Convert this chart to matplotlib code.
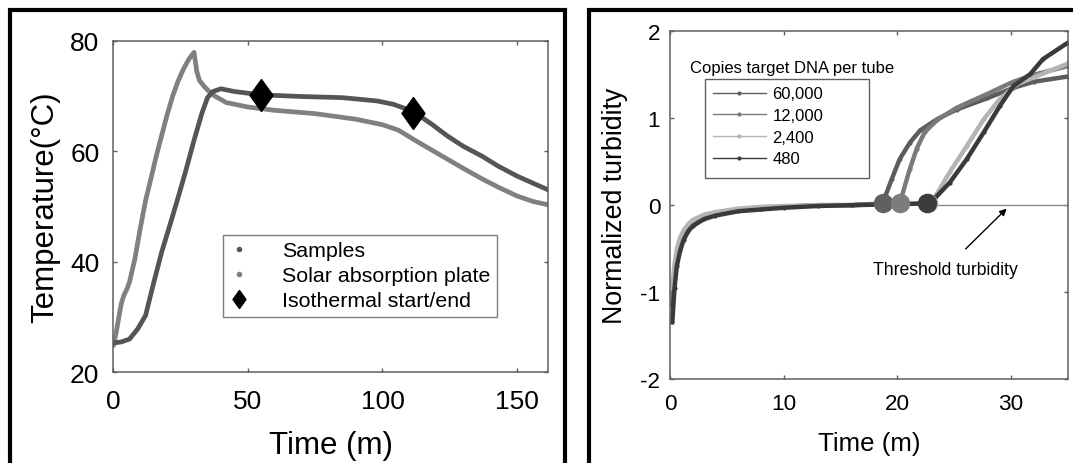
import matplotlib
matplotlib.use('Agg')
import matplotlib.pyplot as plt
from matplotlib.lines import Line2D
from matplotlib.patches import Rectangle

plt.rcParams['font.family'] = ['Liberation Sans', 'DejaVu Sans']
plt.rcParams['axes.unicode_minus'] = False

# ---- left panel data: temperature vs time ----
t_samples = [0, 3, 6, 9, 12, 15, 18, 21, 24, 27, 30, 33, 35, 37, 40, 45, 55, 70, 85,
             98, 104, 108, 112, 118, 124, 130, 137, 143, 150, 156, 161.6]
temp_samples = [25.3, 25.5, 26.0, 27.8, 30.3, 36.2, 41.8, 46.6, 51.5, 56.6, 62.0, 67.0, 69.7,
                70.8, 71.3, 70.8, 70.2, 69.9, 69.7, 69.1, 68.5, 67.8, 67.0, 65.0, 62.8,
                60.9, 59.1, 57.3, 55.5, 54.2, 53.0]

t_plate = [0, 1, 2, 3, 4, 5, 6, 8, 10, 12, 14, 16, 18, 20, 22, 24, 26, 28, 30, 31, 32,
           34, 36, 38, 42, 50, 60, 75, 90, 100, 106, 112, 118, 124, 130, 137, 143, 150,
           156, 161.6]
temp_plate = [24.8, 27.0, 29.8, 32.5, 34.0, 35.0, 36.3, 40.5, 46.0, 51.1, 55.1, 59.2, 62.9,
              66.6, 69.9, 72.6, 74.8, 76.6, 77.9, 74.5, 72.8, 71.6, 70.6, 69.9, 68.8, 68.0,
              67.4, 66.8, 65.8, 64.8, 63.8, 62.0, 60.3, 58.6, 56.9, 55.0, 53.5, 51.9,
              50.9, 50.3]

t_iso = [55, 111.5]
temp_iso = [70.2, 67.0]

# ---- right panel data: normalized turbidity vs time ----
t_early = [0.2, 0.4, 0.6, 0.9, 1.2, 1.6, 2.0, 3.0, 4.0, 6.0, 8.0, 10.0, 13.0, 16.0]

y_early_60k = [-1.15, -0.82, -0.62, -0.46, -0.36, -0.27, -0.21, -0.14, -0.10, -0.06, -0.04, -0.02, 0.0, 0.0]
y_early_12k = [-1.05, -0.75, -0.57, -0.42, -0.33, -0.25, -0.19, -0.13, -0.09, -0.05, -0.03, -0.02, 0.0, 0.0]
y_early_2k4 = [-0.95, -0.68, -0.5, -0.37, -0.29, -0.22, -0.17, -0.11, -0.08, -0.04, -0.02, -0.01, 0.0, 0.0]
y_early_480 = [-1.35, -0.95, -0.7, -0.52, -0.4, -0.3, -0.24, -0.16, -0.12, -0.07, -0.05, -0.03, -0.01, 0.0]

t_late_60k = [18.7, 19.5, 20.2, 21.1, 22.0, 23.5, 25.2, 27.9, 30.2, 32.0, 35.0]
y_late_60k = [0.02, 0.3, 0.53, 0.72, 0.86, 0.99, 1.10, 1.23, 1.35, 1.42, 1.48]
t_late_12k = [20.2, 21.1, 21.7, 22.4, 23.5, 25.2, 27.9, 30.2, 32.0, 35.0]
y_late_12k = [0.02, 0.42, 0.65, 0.84, 0.98, 1.12, 1.28, 1.42, 1.50, 1.60]
t_late_2k4 = [22.8, 23.2, 24.6, 26.1, 27.6, 29.0, 30.5, 32.0, 35.0]
y_late_2k4 = [0.02, 0.07, 0.38, 0.68, 0.99, 1.22, 1.39, 1.47, 1.63]
t_late_480 = [22.6, 23.3, 24.6, 26.1, 27.6, 29.0, 30.2, 31.7, 32.8, 35.0]
y_late_480 = [0.02, 0.08, 0.26, 0.53, 0.84, 1.14, 1.37, 1.51, 1.68, 1.87]

copies_labels = ['60,000', '12,000', '2,400', '480']
onset_times = [18.7, 20.2, 22.7, 22.6]
threshold_t = [22.6, 35]
threshold_y = [0, 0]

# colours
c_samples = '#555555'
c_plate = '#808080'
copies_colors = ['#5c5c5c', '#7a7a7a', '#b4b4b4', '#3a3a3a']
onset_colors = ['#606060', '#7c7c7c', '#b4b4b4', '#3c3c3c']
spine_c = '#5f5f5f'

W, H = 1073, 464
fig = plt.figure(figsize=(W / 100, H / 100), dpi=100)

# black frames around the two panels
fig.add_artist(Rectangle((9.5 / W, -0.1), (565 - 9.5) / W, 1.1 - 11.3 / H,
                         transform=fig.transFigure, fill=False, lw=3.0, ec='black'))
fig.add_artist(Rectangle((588.7 / W, -0.1), 0.5, 1.1 - 11.3 / H,
                         transform=fig.transFigure, fill=False, lw=3.0, ec='black'))


def style_axes(ax, tick_fs, pad_x, pad_y):
    for s in ax.spines.values():
        s.set_color(spine_c)
        s.set_linewidth(1.1)
    ax.tick_params(direction='in', length=3, width=1, color=spine_c,
                   top=True, right=True, labelsize=tick_fs)
    ax.tick_params(axis='x', pad=pad_x)
    ax.tick_params(axis='y', pad=pad_y)


# ---- left panel ----
ax1 = fig.add_axes([113.3 / W, 1 - 373.3 / H, 435 / W, 331.6 / H])
ax1.plot(t_plate, temp_plate, color=c_plate, lw=3.4, solid_capstyle='round')
ax1.plot(t_samples, temp_samples, color=c_samples, lw=3.4, solid_capstyle='round')
diamond = [(0, 1), (0.72, 0), (0, -1), (-0.72, 0), (0, 1)]
ax1.plot(t_iso, temp_iso, ls='none', marker=diamond, ms=23, color='black')
ax1.set_xlim(0, 161.6)
ax1.set_ylim(20, 80)
ax1.set_xticks([0, 50, 100, 150])
ax1.set_yticks([20, 40, 60, 80])
style_axes(ax1, 19, 12, 10)
ax1.set_xlabel('Time (m)', fontsize=22.5, labelpad=12)
ax1.set_ylabel('Temperature(°C)', fontsize=22.5, labelpad=7)

h1 = [Line2D([], [], ls='none', marker='.', ms=6, color=c_samples),
      Line2D([], [], ls='none', marker='.', ms=6, color=c_plate),
      Line2D([], [], ls='none', marker=diamond, ms=13, color='black')]
leg1 = ax1.legend(h1, ['Samples', 'Solar absorption plate', 'Isothermal start/end'],
                  loc='upper left', bbox_to_anchor=(0.252, 0.414), borderaxespad=0,
                  fontsize=15.4, frameon=True, fancybox=False, handlelength=0.9,
                  handletextpad=1.55, labelspacing=0.28, borderpad=0.3)
leg1.get_frame().set_edgecolor(spine_c)
leg1.get_frame().set_linewidth(1.0)

# ---- right panel ----
ax2 = fig.add_axes([670 / W, 1 - 380 / H, 398 / W, 347.7 / H])
ax2.plot(threshold_t, threshold_y, color='#8a8a8a', lw=1.0)
early_sets = [y_early_60k, y_early_12k, y_early_2k4, y_early_480]
late_sets = [(t_late_60k, y_late_60k), (t_late_12k, y_late_12k),
             (t_late_2k4, y_late_2k4), (t_late_480, y_late_480)]
for ye, (tl, yl), col in zip(early_sets, late_sets, copies_colors):
    ax2.plot(t_early + tl, ye + yl, color=col, lw=3.2, marker='.', ms=4,
             solid_capstyle='round')
for tx, col in zip(onset_times, onset_colors):
    ax2.plot([tx], [0.03], ls='none', marker='o', ms=13, color=col)

ax2.set_xlim(0, 35)
ax2.set_ylim(-2, 2)
ax2.set_xticks([0, 10, 20, 30])
ax2.set_yticks([-2, -1, 0, 1, 2])
style_axes(ax2, 16.2, 10, 7)
ax2.set_xlabel('Time (m)', fontsize=18.6, labelpad=12)
ax2.set_ylabel('Normalized turbidity', fontsize=19.3, labelpad=9)

# legend frame drawn separately (box is wider than its entries)
ax2.add_patch(Rectangle((0.088, 0.577), 0.412, 0.286, transform=ax2.transAxes,
                        fill=False, ec=spine_c, lw=1.0, zorder=4))
h2 = [Line2D([], [], color=c, lw=1.0, marker='.', ms=4) for c in copies_colors]
leg2 = ax2.legend(h2, copies_labels, loc='upper left', bbox_to_anchor=(0.088, 0.863),
                  borderaxespad=0, fontsize=12, frameon=False,
                  handlelength=3.2, handletextpad=0.4, labelspacing=0.4,
                  borderpad=0.45, numpoints=1)
ax2.text(0.05, 0.897, 'Copies target DNA per tube', transform=ax2.transAxes,
         fontsize=12, va='center', ha='left')

ax2.annotate('Threshold turbidity', xy=(29.6, -0.04), xytext=(24.2, -0.735),
             fontsize=12.7, ha='center', va='center',
             arrowprops=dict(arrowstyle='-|>', color='black', lw=1.0,
                             mutation_scale=10, shrinkA=9, shrinkB=0))

fig.savefig('out.png', dpi=100)
